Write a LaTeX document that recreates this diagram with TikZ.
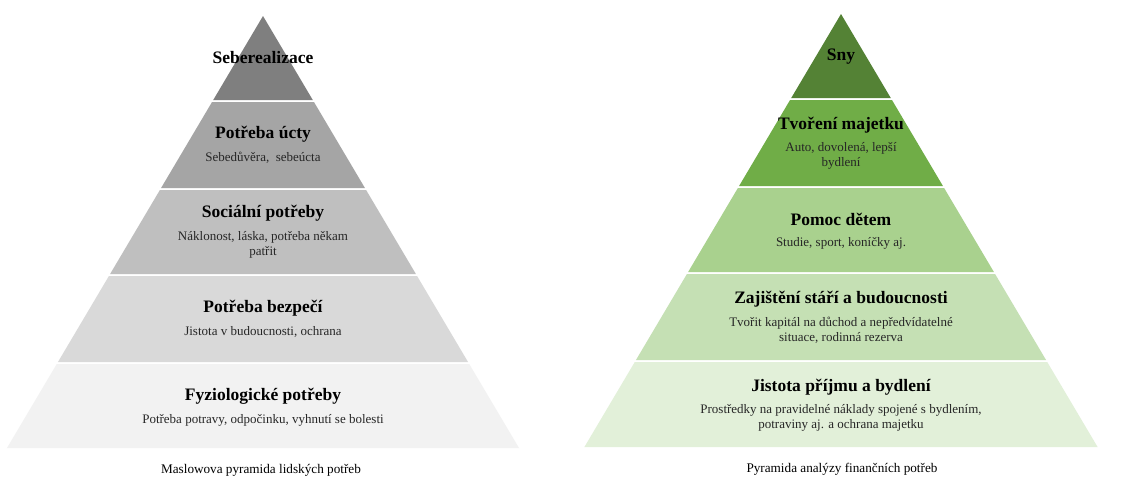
\documentclass[tikz,border=0pt]{standalone}
\usepackage{fontspec}
\setmainfont{Liberation Serif}
\definecolor{gA}{HTML}{7F7F7F}
\definecolor{gB}{HTML}{A5A5A5}
\definecolor{gC}{HTML}{BFBFBF}
\definecolor{gD}{HTML}{D9D9D9}
\definecolor{gE}{HTML}{F2F2F2}
\definecolor{vA}{HTML}{548235}
\definecolor{vB}{HTML}{70AD47}
\definecolor{vC}{HTML}{A9D18E}
\definecolor{vD}{HTML}{C5E0B4}
\definecolor{vE}{HTML}{E2F0D9}
\newcommand{\pyrband}[5]{\fill[#5] ({#1-0.5926*(#3-#2)},#3) -- ({#1+0.5926*(#3-#2)},#3) -- ({#1+0.5926*(#4-#2)},#4) -- ({#1-0.5926*(#4-#2)},#4) -- cycle;}
\tikzset{
  ttl/.style={font=\fontsize{17.5}{20}\selectfont\bfseries, text=black, inner sep=0pt, align=center},
  sub/.style={font=\fontsize{13}{14.5}\selectfont, text=black!85, inner sep=0pt, align=center},
  captxt/.style={font=\fontsize{13.2}{15}\selectfont, text=black, inner sep=0pt}
}
\begin{document}
\begin{tikzpicture}[x=1pt,y=-1pt]
\useasboundingbox[fill=white] (0,0) rectangle (1123,477);
% left pyramid
\pyrband{263}{16}{16}{100}{gA}
\pyrband{263}{16}{102}{188}{gB}
\pyrband{263}{16}{190}{274}{gC}
\pyrband{263}{16}{276}{362}{gD}
\pyrband{263}{16}{364}{448}{gE}
% right pyramid
\pyrband{841}{14}{14}{98}{vA}
\pyrband{841}{14}{100}{186}{vB}
\pyrband{841}{14}{188}{272}{vC}
\pyrband{841}{14}{274}{360}{vD}
\pyrband{841}{14}{362}{447}{vE}
% left texts
\node[ttl] (l1) at (263,58) {Seberealizace};
\node[ttl] (l2) at (263,134) {Potřeba úcty};
\node[sub] (l2s) at (263,158) {Sebedůvěra,\ \ sebeúcta};
\node[ttl] (l3) at (263,213) {Sociální potřeby};
\node[sub] (l3s) at (263,245) {Náklonost,\ láska,\ potřeba\ někam\\patřit};
\node[ttl] (l4) at (263,308) {Potřeba bezpečí};
\node[sub] (l4s) at (263,332) {Jistota v budoucnosti,\ ochrana};
\node[ttl] (l5) at (263,396) {Fyziologické potřeby};
\node[sub] (l5s) at (263,420) {Potřeba potravy,\ odpočinku,\ vyhnutí\ se bolesti};
\node[captxt] (lc) at (261,470) {Maslowova pyramida lidských potřeb};
% right texts
\node[ttl] (r1) at (841,57) {Sny};
\node[ttl] (r2) at (841,125) {Tvoření majetku};
\node[sub] (r2s) at (841,156) {Auto,\ dovolená,\ lepší\\bydlení};
\node[ttl] (r3) at (841,219) {Pomoc dětem};
\node[sub] (r3s) at (841,243) {Studie,\ sport,\ koníčky\ aj.};
\node[ttl] (r4) at (841,299) {Zajištění stáří a budoucnosti};
\node[sub] (r4s) at (841,330.5) {Tvořit kapitál na důchod a nepředvídatelné\\situace, rodinná rezerva};
\node[ttl] (r5) at (841,387) {Jistota příjmu a bydlení};
\node[sub] (r5s) at (841,418) {Prostředky\ na pravidelné náklady spojené s bydlením,\\potraviny\ aj. a ochrana\ majetku};
\node[captxt] (rc) at (842,469) {Pyramida analýzy finančních potřeb};
\end{tikzpicture}
\end{document}
